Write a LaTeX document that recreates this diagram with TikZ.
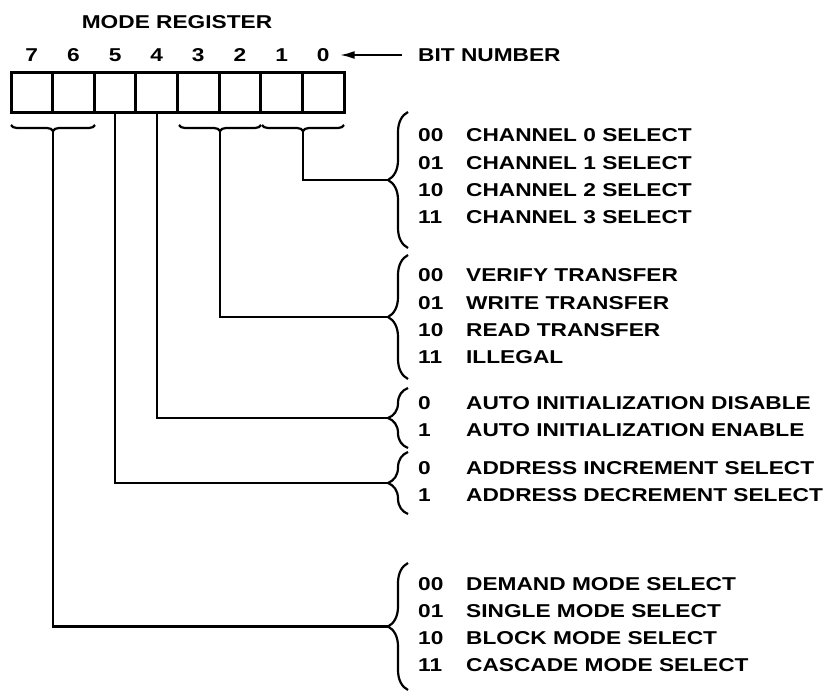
\documentclass[tikz,border=0pt]{standalone}
\usepackage{fontspec}
\setmainfont{Liberation Sans}[FakeStretch=1.22]
\usetikzlibrary{arrows.meta,decorations.pathreplacing}

\begin{document}
\begin{tikzpicture}[x=1pt, y=-1pt,
  txt/.style={font=\fontsize{18.6}{22}\selectfont\bfseries, inner sep=0pt},
  cell/.style={draw, line width=3pt, outer sep=0pt, inner sep=0pt, minimum width=41.6pt, minimum height=40pt},
  digit/.style={txt, label distance=10pt},
  row/.style={txt, anchor=west},
  wire/.style={line width=2.2pt},
  vbrace/.style={wire, decorate, decoration={brace, amplitude=20pt}},
  hbrace/.style={wire, decorate, decoration={brace, amplitude=6pt}},
  arr/.style={-{Latex[length=15pt, width=8pt]}, wire}]
\useasboundingbox (0,0) rectangle (834,691);
\node[txt] (title) at (177,22) {MODE REGISTER};
\node[cell, label={[digit, name=d7]above:7}] (b7) at (31.8,92) {};
\node[cell, label={[digit, name=d6]above:6}] (b6) at (73.4,92) {};
\node[cell, label={[digit, name=d5]above:5}] (b5) at (115.1,92) {};
\node[cell, label={[digit, name=d4]above:4}] (b4) at (156.7,92) {};
\node[cell, label={[digit, name=d3]above:3}] (b3) at (198.3,92) {};
\node[cell, label={[digit, name=d2]above:2}] (b2) at (239.9,92) {};
\node[cell, label={[digit, name=d1]above:1}] (b1) at (281.6,92) {};
\node[cell, label={[digit, name=d0]above:0}] (b0) at (323.2,92) {};
\node[row] (bitnum) at (418,55) {BIT NUMBER};
\draw[arr] ([xshift=-16pt]bitnum.west) -- ([xshift=10pt]d0.east |- bitnum.west);
% braces under the register
\draw[hbrace] (95,125) -- (11,125);
\draw[hbrace] (261,125) -- (179,125);
\draw[hbrace] (344,125) -- (262,125);
\coordinate (s76) at (53,131);
\coordinate (s32) at (220,131);
\coordinate (s10) at (303,131);
% braces on the right
\draw[vbrace] (408,248) -- (408,112);
\draw[vbrace] (408,379) -- (408,255);
\draw[vbrace] (408,448) -- (408,388);
\draw[vbrace] (408,514) -- (408,452);
\draw[vbrace] (408,690) -- (408,563);
\coordinate (kch) at (388,180);
\coordinate (kxf) at (388,317);
\coordinate (kai) at (388,418);
\coordinate (kad) at (388,483);
\coordinate (kmd) at (388,626.5);
\node[row] (ch0) at (418,135) {\makebox[48pt][l]{00}CHANNEL 0 SELECT};
\node[row] (ch1) at (418,163) {\makebox[48pt][l]{01}CHANNEL 1 SELECT};
\node[row] (ch2) at (418,190) {\makebox[48pt][l]{10}CHANNEL 2 SELECT};
\node[row] (ch3) at (418,217) {\makebox[48pt][l]{11}CHANNEL 3 SELECT};
\node[row] (xf0) at (418,275) {\makebox[48pt][l]{00}VERIFY TRANSFER};
\node[row] (xf1) at (418,303) {\makebox[48pt][l]{01}WRITE TRANSFER};
\node[row] (xf2) at (418,330) {\makebox[48pt][l]{10}READ TRANSFER};
\node[row] (xf3) at (418,357) {\makebox[48pt][l]{11}ILLEGAL};
\node[row] (ai0) at (418,403) {\makebox[48pt][l]{0}AUTO INITIALIZATION DISABLE};
\node[row] (ai1) at (418,430) {\makebox[48pt][l]{1}AUTO INITIALIZATION ENABLE};
\node[row] (ad0) at (418,468) {\makebox[48pt][l]{0}ADDRESS INCREMENT SELECT};
\node[row] (ad1) at (418,495) {\makebox[48pt][l]{1}ADDRESS DECREMENT SELECT};
\node[row] (md0) at (418,584) {\makebox[48pt][l]{00}DEMAND MODE SELECT};
\node[row] (md1) at (418,611) {\makebox[48pt][l]{01}SINGLE MODE SELECT};
\node[row] (md2) at (418,638) {\makebox[48pt][l]{10}BLOCK MODE SELECT};
\node[row] (md3) at (418,665) {\makebox[48pt][l]{11}CASCADE MODE SELECT};
% bit fields to their braces
\draw[wire] (s10) |- (kch);
\draw[wire] (s32) |- (kxf);
\draw[wire] (b4.south) |- (kai);
\draw[wire] (b5.south) |- (kad);
\draw[wire] (s76) |- (kmd);
\end{tikzpicture}
\end{document}
